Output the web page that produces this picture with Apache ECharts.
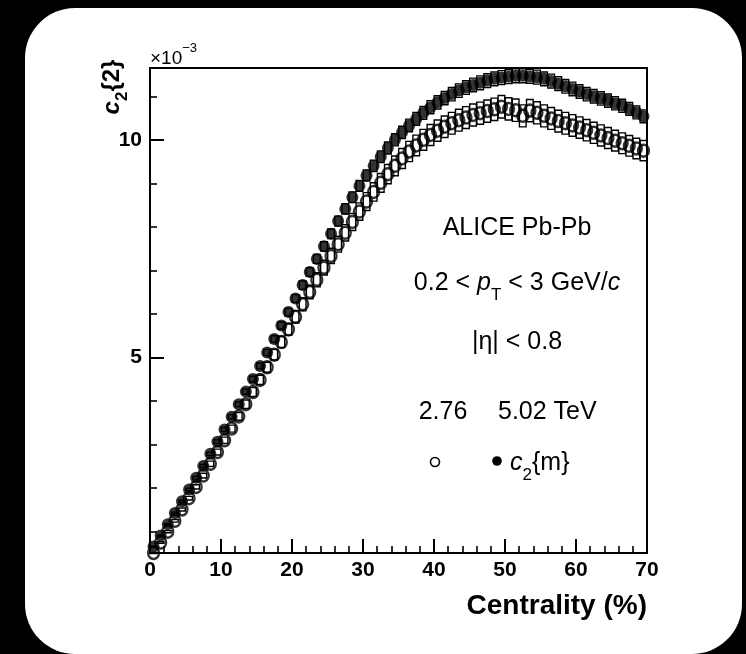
<!DOCTYPE html>
<html><head><meta charset="utf-8">
<script src="https://cdn.jsdelivr.net/npm/echarts@6/dist/echarts.min.js"></script>
<style>html,body{margin:0;padding:0;background:#000;} #c{width:746px;height:654px;}</style>
</head><body><div id="c"></div>
<script>
// ---- data (c2{2} in units of 1e-3) ----
const centrality = [0.5,1.5,2.5,3.5,4.5,5.5,6.5,7.5,8.5,9.5,
 10.5,11.5,12.5,13.5,14.5,15.5,16.5,17.5,18.5,19.5,
 20.5,21.5,22.5,23.5,24.5,25.5,26.5,27.5,28.5,29.5,
 30.5,31.5,32.5,33.5,34.5,35.5,36.5,37.5,38.5,39.5,
 40.5,41.5,42.5,43.5,44.5,45.5,46.5,47.5,48.5,49.5,
 50.5,51.5,52.5,53.5,54.5,55.5,56.5,57.5,58.5,59.5,
 60.5,61.5,62.5,63.5,64.5,65.5,66.5,67.5,68.5,69.5];
const c2_502 = [0.65,0.90,1.16,1.42,1.69,1.96,2.23,2.50,2.78,3.06,
 3.34,3.63,3.92,4.21,4.50,4.80,5.11,5.42,5.73,6.04,
 6.35,6.66,6.96,7.26,7.55,7.84,8.13,8.41,8.68,8.94,
 9.18,9.40,9.61,9.81,10.00,10.17,10.33,10.48,10.62,10.75,
 10.86,10.96,11.05,11.13,11.20,11.26,11.31,11.36,11.40,11.43,
 11.45,11.47,11.47,11.46,11.44,11.40,11.35,11.29,11.23,11.17,
 11.11,11.05,11.00,10.95,10.90,10.84,10.78,10.71,10.63,10.54];
const c2_276 = [0.50,0.74,0.99,1.24,1.50,1.76,2.02,2.28,2.55,2.82,
 3.09,3.36,3.64,3.92,4.20,4.48,4.77,5.06,5.35,5.64,
 5.93,6.22,6.50,6.78,7.06,7.33,7.60,7.86,8.11,8.35,
 8.58,8.80,9.01,9.21,9.40,9.57,9.73,9.87,10.00,10.11,
 10.21,10.30,10.38,10.45,10.51,10.57,10.61,10.66,10.70,10.76,
 10.71,10.68,10.55,10.67,10.62,10.55,10.49,10.43,10.38,10.33,
 10.28,10.22,10.16,10.10,10.04,9.98,9.92,9.86,9.80,9.75];
// relative systematic uncertainty (box half-height)
const sysRel502 = 0.014;
const sysRel276 = 0.024;
const xMin = 0, xMax = 70, xInterval = 10;
const yMin = 0.5, yMax = 11.65;
const yMajorTicks = [5, 10];
const yMinorTicks = [1, 2, 3, 4, 6, 7, 8, 9, 11];

// ---- helpers ----
const FF = '"Liberation Sans", Arial, Helvetica, sans-serif';
const mctx = document.createElement('canvas').getContext('2d');
function measure(t, font) { mctx.font = font; return mctx.measureText(t).width; }
function textRuns(runs, x, y, align) {
  const widths = runs.map(r => measure(r.t, r.font));
  const W = widths.reduce((a, b) => a + b, 0);
  let cx = align === 'center' ? x - W / 2 : (align === 'right' ? x - W : x);
  return runs.map((r, i) => {
    const el = { type: 'text', x: cx, y: y + (r.dy || 0), z: 100,
      style: { text: r.t, font: r.font, fill: '#000', textAlign: 'left', textVerticalAlign: 'middle', align: 'left', verticalAlign: 'middle' } };
    cx += widths[i];
    return el;
  });
}
const F25 = '25px ' + FF, F25i = 'italic 25px ' + FF, F17 = '17px ' + FF;

const boxData = (vals, rel) => centrality.map((c, i) => [c, vals[i], vals[i] * rel]);
function boxRender(params, api) {
  const x = api.value(0), y = api.value(1), e = api.value(2);
  const p1 = api.coord([x - 0.47, y + e]);
  const p2 = api.coord([x + 0.47, y - e]);
  return { type: 'rect', shape: { x: p1[0], y: p1[1], width: p2[0] - p1[0], height: p2[1] - p1[1] },
    style: { fill: 'none', stroke: '#000', lineWidth: 1.4 } };
}

const graphics = [
  { type: 'rect', z: -10, shape: { x: 25, y: 8, width: 717, height: 646, r: 50 }, style: { fill: '#fff' } },
  ...textRuns([{ t: 'ALICE Pb-Pb', font: F25 }], 517, 228, 'center'),
  ...textRuns([{ t: '0.2 < ', font: F25 }, { t: 'p', font: F25i }, { t: 'T', font: F17, dy: 12 }, { t: ' < 3 GeV/', font: F25 }, { t: 'c', font: F25i }], 517, 283, 'center'),
  ...textRuns([{ t: '|\u03b7| < 0.8', font: F25 }], 517, 342, 'center'),
  ...textRuns([{ t: '2.76', font: F25 }], 443, 412, 'center'),
  ...textRuns([{ t: '5.02 TeV', font: F25 }], 498, 412, 'left'),
  { type: 'circle', z: 100, shape: { cx: 435, cy: 462, r: 4.5 }, style: { fill: 'none', stroke: '#000', lineWidth: 1.6 } },
  { type: 'circle', z: 100, shape: { cx: 497, cy: 461, r: 4.8 }, style: { fill: '#000' } },
  ...textRuns([{ t: 'c', font: F25i }, { t: '2', font: F17, dy: 12 }, { t: '{m}', font: F25 }], 510, 463, 'left'),
  ...textRuns([{ t: '\u00d710', font: '19px ' + FF }, { t: '\u22123', font: '13px ' + FF, dy: -11 }], 150, 59, 'left'),
  ...textRuns([{ t: 'Centrality (%)', font: 'bold 28px ' + FF }], 647, 606, 'right'),
  { type: 'group', x: 112, y: 87, rotation: Math.PI / 2, z: 100,
    children: textRuns([{ t: 'c', font: 'bold italic 24px ' + FF }, { t: '2', font: 'bold 17px ' + FF, dy: 10 }, { t: '{2}', font: 'bold 24px ' + FF }], 0, 0, 'center') }
];

const chart = echarts.init(document.getElementById('c'), null, { renderer: 'canvas' });
const labelStyle = { color: '#000', fontSize: 21, fontWeight: 'bold', fontFamily: FF };
chart.setOption({
  backgroundColor: '#000',
  animation: false,
  grid: { left: 150, right: 99, top: 68, bottom: 101, show: true, borderColor: '#000', borderWidth: 2, backgroundColor: 'rgba(0,0,0,0)', outerBoundsMode: 'none', containLabel: false },
  xAxis: {
    type: 'value', min: xMin, max: xMax, interval: xInterval,
    axisLine: { show: true, onZero: false, lineStyle: { color: '#000', width: 2 } },
    axisTick: { show: true, inside: true, length: 14, lineStyle: { color: '#000', width: 2 } },
    minorTick: { show: true, splitNumber: 5, length: 7, lineStyle: { color: '#000', width: 1.6 } },
    splitLine: { show: false }, minorSplitLine: { show: false },
    axisLabel: { ...labelStyle, margin: 7 }
  },
  yAxis: [
    { type: 'value', min: yMin, max: yMax,
      axisLine: { show: true, onZero: false, lineStyle: { color: '#000', width: 2 } },
      axisTick: { show: true, inside: true, length: 14, customValues: yMajorTicks, lineStyle: { color: '#000', width: 2 } },
      axisLabel: { ...labelStyle, margin: 8, customValues: yMajorTicks },
      splitLine: { show: false } },
    { type: 'value', min: yMin, max: yMax, position: 'left',
      axisLine: { show: false },
      axisTick: { show: true, inside: true, length: 7, customValues: yMinorTicks, lineStyle: { color: '#000', width: 1.6 } },
      axisLabel: { show: false, customValues: yMinorTicks },
      splitLine: { show: false } }
  ],
  graphic: graphics,
  series: [
    { type: 'custom', name: 'sys276', renderItem: boxRender, data: boxData(c2_276, sysRel276), silent: true, z: 2 },
    { type: 'custom', name: 'sys502', renderItem: boxRender, data: boxData(c2_502, sysRel502), silent: true, z: 2 },
    { type: 'scatter', name: '2.76 TeV', data: centrality.map((c, i) => [c, c2_276[i]]), symbol: 'circle', symbolSize: [11, 12],
      itemStyle: { color: 'rgba(0,0,0,0)', borderColor: '#000', borderWidth: 2.4 }, silent: true, z: 3 },
    { type: 'scatter', name: '5.02 TeV', data: centrality.map((c, i) => [c, c2_502[i]]), symbol: 'circle', symbolSize: 12,
      itemStyle: { color: '#000' }, silent: true, z: 4 }
  ]
});
</script></body></html>
